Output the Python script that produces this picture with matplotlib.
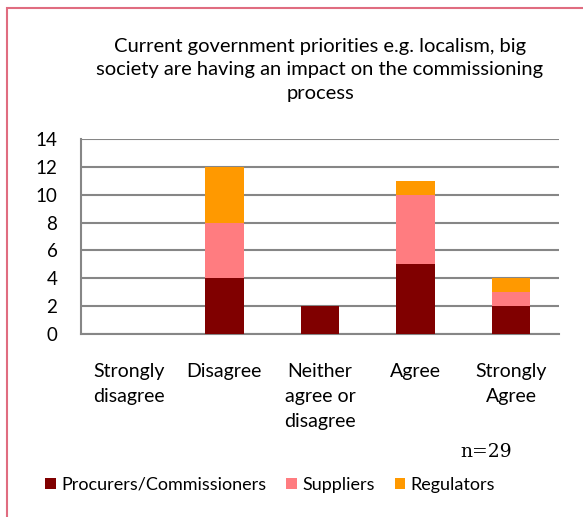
import matplotlib
matplotlib.use("Agg")
import matplotlib.pyplot as plt
from matplotlib.patches import Rectangle
import numpy as np

categories = ["Strongly\ndisagree", "Disagree", "Neither\nagree or\ndisagree", "Agree", "Strongly\nAgree"]
procurers = [0, 4, 2, 5, 2]
suppliers = [0, 4, 0, 5, 1]
regulators = [0, 4, 0, 1, 1]
series_names = ["Procurers/Commissioners", "Suppliers", "Regulators"]
colors = ["#800000", "#FF7C80", "#FF9900"]
title = "Current government priorities e.g. localism, big\nsociety are having an impact on the commissioning\nprocess"
yticks = [0, 2, 4, 6, 8, 10, 12, 14]

plt.rcParams['font.family'] = ['Lato', 'DejaVu Sans']

W, H = 583, 517
fig = plt.figure(figsize=(W / 100, H / 100), dpi=100)

ax = fig.add_axes([81 / W, (H - 334) / H, (559 - 81) / W, (334 - 139) / H])
x = np.arange(len(categories))
bottom = np.zeros(len(categories))
for vals, c, name in zip([procurers, suppliers, regulators], colors, series_names):
    ax.bar(x, vals, width=0.4, bottom=bottom, color=c, label=name, zorder=3)
    bottom += np.array(vals)

ax.set_xlim(-0.5, len(categories) - 0.5)
ax.set_ylim(0, 14)
ax.set_yticks(yticks)
ax.set_yticklabels([str(v) for v in yticks], fontsize=13.5)
ax.yaxis.grid(True, color="#868686", linewidth=1.5, zorder=0)
ax.set_xticks(x)
ax.set_xticklabels(categories, fontsize=14, linespacing=1.56, va="top")
ax.tick_params(axis="both", length=0)
ax.tick_params(axis="y", pad=17)
ax.tick_params(axis="x", pad=21)
for s in ["top", "right"]:
    ax.spines[s].set_visible(False)
for s in ["left", "bottom"]:
    ax.spines[s].set_color("#868686")
    ax.spines[s].set_linewidth(1.5)

fig.text(320 / W, 1 - 70 / H, title, ha="center", va="center", fontsize=14.5, linespacing=1.48)
fig.text(486 / W, 1 - 452 / H, "n=29", ha="center", va="center", fontsize=13.5, family=["DejaVu Serif"])

fig.legend(loc="center", bbox_to_anchor=(270 / W, 1 - 485 / H), ncol=3, frameon=False,
           fontsize=13, handlelength=0.6, handleheight=0.6, handletextpad=0.3, columnspacing=1.1,
           borderpad=0, borderaxespad=0)

fig.patches.append(Rectangle((7 / W, -0.1), 1.2, 1 - 8 / H + 0.1, transform=fig.transFigure,
                             fill=False, edgecolor="#E06C80", linewidth=1.5))

fig.savefig("out.png", dpi=100)
